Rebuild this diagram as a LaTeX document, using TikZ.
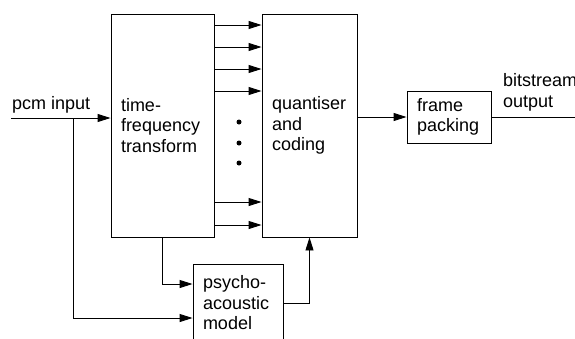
\documentclass[tikz,border=0pt]{standalone}
\usepackage{fontspec}
\setmainfont{Liberation Sans}
\usepackage{tikz}
\usetikzlibrary{arrows.meta,positioning}
\tikzstyle{arrow} = [line width=0.9pt,-{Triangle[length=13pt,width=8pt]}]

\begin{document}
\begin{tikzpicture} [
    x=1pt,y=-1pt,
    every node/.style={font=\fontsize{18}{20.5}\selectfont},
    block/.style={rectangle,draw,line width=0.9pt,align=left,inner xsep=10pt,inner ysep=0pt},
    lbl/.style={inner sep=0pt,align=left},
    ]

    \useasboundingbox (0,0) rectangle (575,338);
    \clip (0,0) rectangle (575,338);

    \node [block,text width=83pt,minimum height=223pt] (tf) at (162.5,125.5) {time-\\frequency\\transform};
    \path (tf) ++(147,0) node [block,text width=75pt,minimum height=223pt] (qc) {quantiser\\and\\coding};
    \path (qc) ++(139.5,-8.5) node [block,text width=64pt,minimum height=52pt] (fp) {frame\\packing};
    \path (tf) ++(75.5,177.5) node [block,text width=70pt,minimum height=78pt] (pa) {psycho-\\acoustic\\model};

    \coordinate (in) at (11,118);
    \coordinate (split) at (73,118);
    \coordinate (out) at (575,117);
    \node [lbl,anchor=base west] (inlbl) at (12,109) {pcm input};
    \node [lbl,anchor=base west] (outlbl) at (503,107) {bitstream\\output};

    \draw[arrow] (in) -- (tf.west |- in);
    \draw[arrow] (split) |- ([yshift=-15pt]pa.west);
    \draw[arrow] (tf.south) |- ([yshift=19pt]pa.west);
    \draw[arrow] (pa.east) -| (qc.south);

    % subband outputs
    \draw[arrow] (tf.east |- 0,25) -- (qc.west |- 0,25);
    \draw[arrow] (tf.east |- 0,47) -- (qc.west |- 0,47);
    \draw[arrow] (tf.east |- 0,69) -- (qc.west |- 0,69);
    \draw[arrow] (tf.east |- 0,91) -- (qc.west |- 0,91);
    \draw[arrow] (tf.east |- 0,202) -- (qc.west |- 0,202);
    \draw[arrow] (tf.east |- 0,225) -- (qc.west |- 0,225);
    \fill (239,122) circle (2.5pt);
    \fill (239,143) circle (2.5pt);
    \fill (239,163) circle (2.5pt);

    \draw[arrow] (qc.east |- fp.west) -- (fp.west);
    \draw[line width=0.9pt] (fp.east) -- (out);
\end{tikzpicture}
\end{document}
